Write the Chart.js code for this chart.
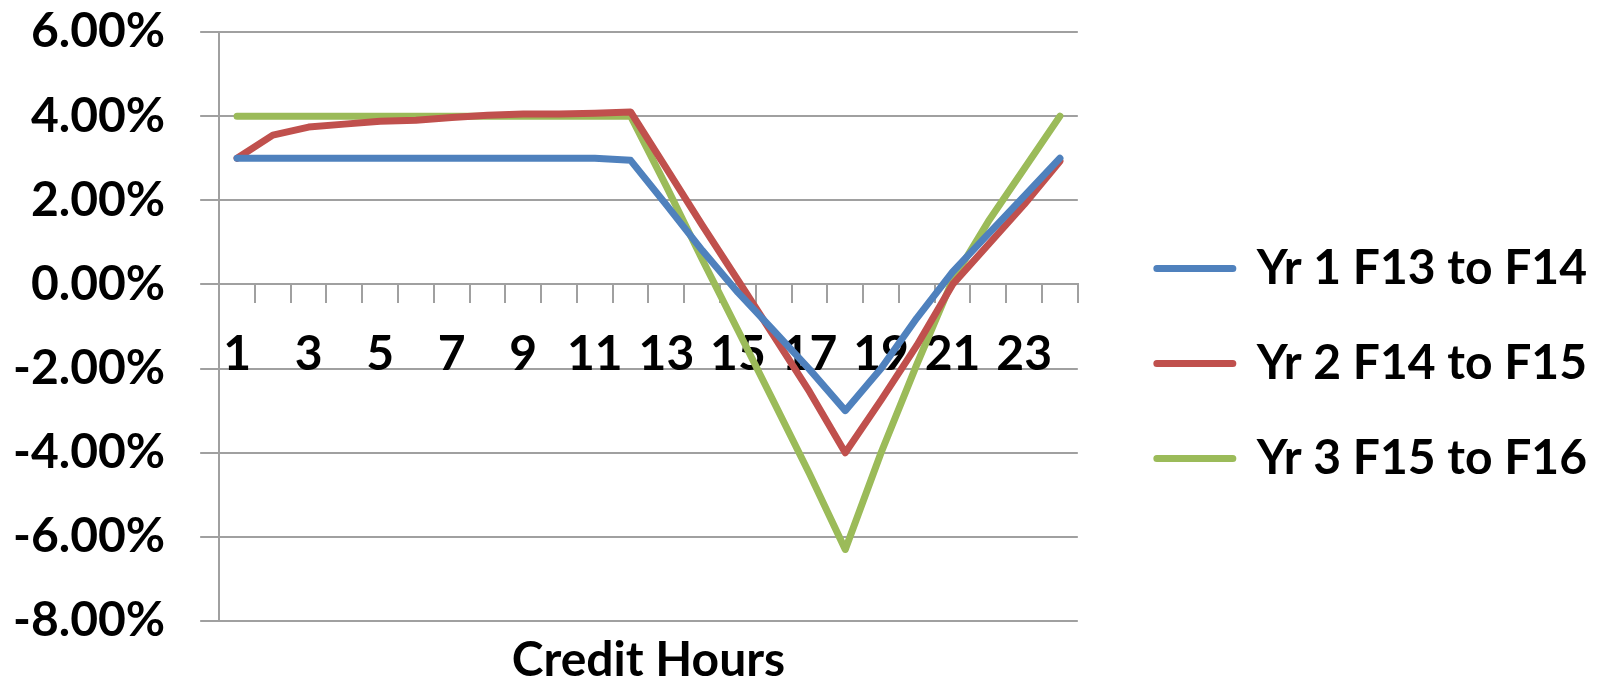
<!DOCTYPE html>
<html>
<head>
<meta charset="utf-8">
<script src="https://cdn.jsdelivr.net/npm/chart.js@4/dist/chart.umd.min.js"></script>
<style>
  html, body { margin: 0; padding: 0; background: #fff; }
  #wrap { width: 1613px; height: 683px; }
</style>
</head>
<body>
<div id="wrap"><canvas id="chart" width="1613" height="683"></canvas></div>
<script>
// Dados (variação percentual por hora de crédito)
const creditHours = ["1","2","3","4","5","6","7","8","9","10","11","12","13","14","15","16","17","18","19","20","21","22","23","24"];

const yr1 = [0.030, 0.030, 0.030, 0.030, 0.030, 0.030, 0.030, 0.030, 0.030, 0.030, 0.030, 0.0295,
             0.0189, 0.0081, -0.0019, -0.011, -0.0202, -0.030, -0.020, -0.008, 0.003, 0.012, 0.021, 0.030];
const yr2 = [0.030, 0.0355, 0.0374, 0.0381, 0.0388, 0.039, 0.0397, 0.0402, 0.0405, 0.0405, 0.0407, 0.041,
             0.0276, 0.0141, 0.001, -0.0122, -0.0255, -0.040, -0.0275, -0.0145, 0.000, 0.0095, 0.019, 0.0293];
const yr3 = [0.040, 0.040, 0.040, 0.040, 0.040, 0.040, 0.040, 0.040, 0.040, 0.040, 0.040, 0.040,
             0.0233, 0.006, -0.0109, -0.0279, -0.045, -0.063, -0.040, -0.019, 0.001, 0.015, 0.0275, 0.040];

const seriesNames = ["Yr 1 F13 to F14", "Yr 2 F14 to F15", "Yr 3 F15 to F16"];
const seriesColors = ["#4F81BD", "#C0504D", "#9BBB59"];

const yMin = -0.08;
const yMax = 0.06;
const yStep = 0.02;

const fonte = "Lato";
const tamanho = 48;
const cinza = "#a0a0a0";

function makeDataset(i, values) {
    return {
        label: seriesNames[i],
        data: values,
        borderColor: seriesColors[i],
        backgroundColor: seriesColors[i],
        borderWidth: 7,
        pointRadius: 0,
        tension: 0,
        fill: false,
        borderCapStyle: "round",
        borderJoinStyle: "round",
    };
}

const ctx = document.getElementById("chart").getContext("2d");
const chart = new Chart(ctx, {
    type: "line",
    data: {
        labels: creditHours,
        datasets: [makeDataset(0, yr1), makeDataset(1, yr2), makeDataset(2, yr3)],
    },
    options: {
        responsive: false,
        animation: false,
        layout: {
            padding: { top: 32, left: -22, right: 16, bottom: 0 },
        },
        plugins: {
            legend: {
                position: "right",
                maxWidth: 700,
                // título vazio só para descer um pouco os itens
                title: {
                    display: true,
                    text: " ",
                    font: { size: 12, lineHeight: 1 },
                    padding: 0,
                },
                labels: {
                    boxWidth: 76,
                    boxHeight: 0,
                    padding: 47,
                    color: "#000",
                    font: { family: fonte, size: tamanho, weight: "bold" },
                },
            },
            title: {
                display: true,
                position: "bottom",
                fullSize: false,
                text: "Credit Hours",
                color: "#000",
                font: { family: fonte, size: tamanho, weight: "bold", lineHeight: "44px" },
                padding: { top: 18, bottom: 0 },
            },
            tooltip: { enabled: false },
        },
        scales: {
            x: {
                position: { y: 0 },
                offset: true,
                grid: {
                    display: true,
                    drawOnChartArea: false,
                    drawTicks: true,
                    tickLength: 18,
                    offset: true,
                    color: cinza,
                    lineWidth: 2,
                },
                border: { display: true, color: cinza, width: 2 },
                ticks: {
                    autoSkip: false,
                    maxRotation: 0,
                    padding: 23,
                    color: "#000",
                    font: { family: fonte, size: tamanho, weight: "bold" },
                    callback: function (value, index) {
                        return index % 2 === 0 ? creditHours[index] : "";
                    },
                },
            },
            y: {
                min: yMin,
                max: yMax,
                grid: {
                    color: cinza,
                    lineWidth: 2,
                    tickLength: 19,
                },
                border: { display: true, color: cinza, width: 2 },
                ticks: {
                    stepSize: yStep,
                    padding: 35,
                    color: "#000",
                    font: { family: fonte, size: tamanho, weight: "bold" },
                    callback: (v) => (v * 100).toFixed(2) + "%",
                },
                afterFit: (s) => { s.paddingTop = 0; s.paddingBottom = 0; },
            },
            // eixo vazio só para abrir espaço entre o gráfico e a legenda
            espaco: {
                type: "linear",
                position: "right",
                display: true,
                grid: { display: false },
                border: { display: false },
                ticks: { display: false },
                afterFit: (s) => { s.width = 32; },
            },
        },
    },
});
</script>
</body>
</html>
